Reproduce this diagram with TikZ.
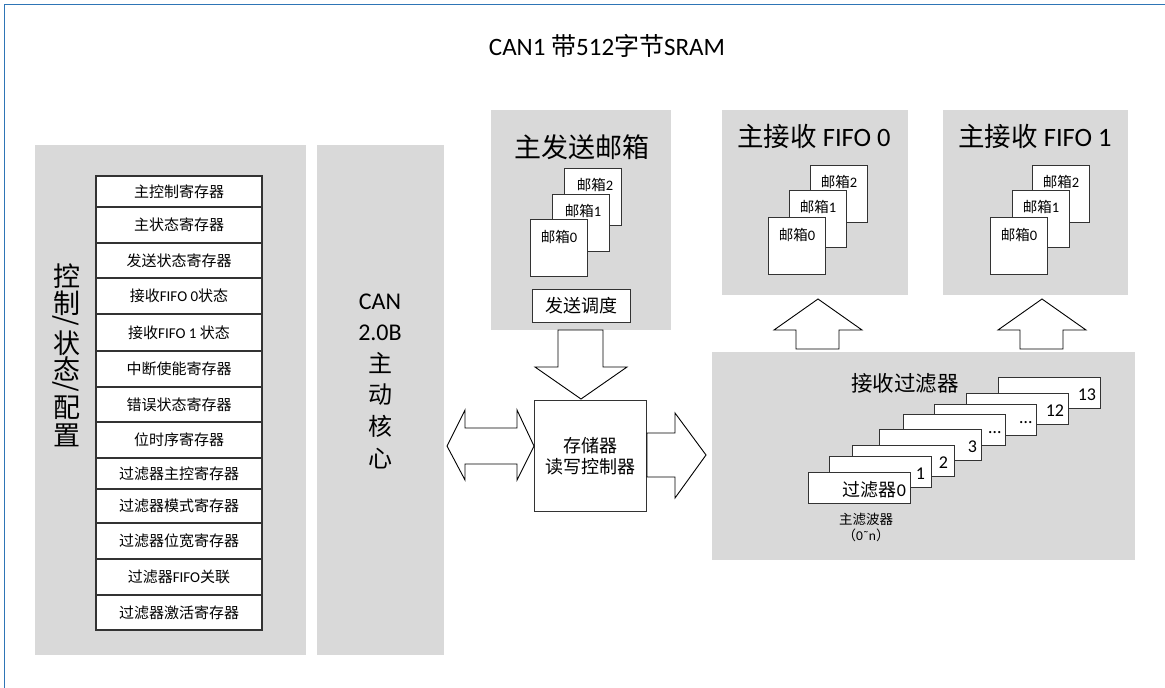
\documentclass[tikz,border=0pt]{standalone}
\usepackage{fontspec}
\usepackage{graphicx}
\setmainfont{Noto Sans CJK SC}
\newfontfamily\latfont{Carlito}
\newcommand\latn[1]{{\latfont #1}}
\definecolor{panel}{HTML}{D9D9D9}
\definecolor{frameblue}{HTML}{2E75B6}
\definecolor{edge}{HTML}{333333}
\begin{document}
\begin{tikzpicture}[x=1pt,y=-1pt,
  panelbox/.style={fill=panel, draw=none, inner sep=0pt, anchor=north west},
  regbox/.style={draw=edge, line width=1.1pt, fill=white, minimum width=166pt, inner sep=0pt, font=\fontsize{15}{17}\selectfont},
  mailbox/.style={draw=edge, line width=1.2pt, fill=white, minimum width=57pt, minimum height=57pt, inner sep=0pt, anchor=north west},
  mblabel/.style={font=\fontsize{14.5}{16}\selectfont, inner sep=0pt},
  filterbox/.style={draw=edge, line width=1.2pt, fill=white, minimum width=102pt, minimum height=31pt, inner sep=0pt, anchor=north west},
  flabel/.style={font=\fontsize{18}{20}\selectfont, inner sep=0pt, anchor=east},
  vchar/.style={font=\fontsize{27}{27}\selectfont, inner sep=0pt},
  blockarrow/.style={draw=black, line width=0.9pt, fill=white, line join=miter},
]
\useasboundingbox (0,0) rectangle (1165,688);
\fill[white] (0,0) rectangle (1165,688);
% outer frame
\draw[frameblue, line width=1.5pt] (1165,4.5) -- (4.5,4.5) -- (4.5,688);

% title
\node[font=\fontsize{25}{28}\selectfont] (title) at (607,46) {\latn{CAN1} 带\latn{512}字节\latn{SRAM}};

% panels
\node[panelbox, minimum width=271pt, minimum height=510pt] (ctrl) at (35,145) {};
\node[panelbox, minimum width=127pt, minimum height=510pt] (core) at (317,145) {};
\node[panelbox, minimum width=180pt, minimum height=220pt] (tx) at (491,110) {};
\node[panelbox, minimum width=186pt, minimum height=185pt] (fifo0) at (722,110) {};
\node[panelbox, minimum width=185pt, minimum height=185pt] (fifo1) at (943,110) {};
\node[panelbox, minimum width=423pt, minimum height=208pt] (filt) at (712,352) {};

% control / status / config label
\node[vchar] (v1) at (67,276) {控};
\node[vchar] (v2) at (67,303) {制};
\node[vchar] (v3) at (66,322) {\rotatebox[origin=c]{-90}{/}};
\node[vchar] (v4) at (67,343) {状};
\node[vchar] (v5) at (67,369) {态};
\node[vchar] (v6) at (66,388) {\rotatebox[origin=c]{-90}{/}};
\node[vchar] (v7) at (67,408) {配};
\node[vchar] (v8) at (67,435) {置};

% registers
\node[regbox, minimum height=31pt] (r1) at (179,191.5) {主控制寄存器};
\node[regbox, minimum height=36pt] (r2) at (179,225) {主状态寄存器};
\node[regbox, minimum height=35pt] (r3) at (179,260.5) {发送状态寄存器};
\node[regbox, minimum height=36pt] (r4) at (179,296) {接收\latn{FIFO 0}状态};
\node[regbox, minimum height=37pt] (r5) at (179,332.5) {接收\latn{FIFO 1} 状态};
\node[regbox, minimum height=36pt] (r6) at (179,369) {中断使能寄存器};
\node[regbox, minimum height=35pt] (r7) at (179,404.5) {错误状态寄存器};
\node[regbox, minimum height=36pt] (r8) at (179,440) {位时序寄存器};
\node[regbox, minimum height=31pt] (r9) at (179,473.5) {过滤器主控寄存器};
\node[regbox, minimum height=34pt] (r10) at (179,506) {过滤器模式寄存器};
\node[regbox, minimum height=36pt] (r11) at (179,541) {过滤器位宽寄存器};
\node[regbox, minimum height=36pt] (r12) at (179,577) {过滤器\latn{FIFO}关联};
\node[regbox, minimum height=35pt] (r13) at (179,612.5) {过滤器激活寄存器};

% CAN core text
\node[font=\fontsize{24}{31.6}\selectfont, align=center, inner sep=0pt] (coretxt) at (380,381) {\latn{CAN}\\\latn{2.0B}\\主\\动\\核\\心};

% transmit mailboxes
\node[font=\fontsize{27}{30}\selectfont, inner sep=0pt] (txtitle) at (582,147) {主发送邮箱};
\node[mailbox] (tx2) at (564,168) {};
\node[mblabel] (tx2l) at ([xshift=2pt,yshift=-17pt]tx2.north) {邮箱\latn{2}};
\node[mailbox] (tx1) at (552,194) {};
\node[mblabel] (tx1l) at ([xshift=2pt,yshift=-17pt]tx1.north) {邮箱\latn{1}};
\node[mailbox] (tx0) at (530,219) {};
\node[mblabel] (tx0l) at ([xshift=0pt,yshift=-18pt]tx0.north) {邮箱\latn{0}};
\node[draw=edge, line width=1.2pt, fill=white, minimum width=98pt, minimum height=33pt, inner sep=0pt, anchor=north west, font=\fontsize{18}{20}\selectfont] (sched) at (532,289) {发送调度};

% FIFO 0
\node[font=\fontsize{26.5}{30}\selectfont, inner sep=0pt] (f0title) at (814,136) {主接收 \latn{FIFO 0}};
\node[mailbox] (a2) at (810,165) {};
\node[mblabel] (a2l) at ([yshift=-17pt]a2.north) {邮箱\latn{2}};
\node[mailbox] (a1) at (789,190) {};
\node[mblabel] (a1l) at ([yshift=-17pt]a1.north) {邮箱\latn{1}};
\node[mailbox] (a0) at (768,217) {};
\node[mblabel] (a0l) at ([yshift=-18pt]a0.north) {邮箱\latn{0}};

% FIFO 1
\node[font=\fontsize{26.5}{30}\selectfont, inner sep=0pt] (f1title) at (1035,136) {主接收 \latn{FIFO 1}};
\node[mailbox] (b2) at (1032,165) {};
\node[mblabel] (b2l) at ([yshift=-17pt]b2.north) {邮箱\latn{2}};
\node[mailbox] (b1) at (1012,190) {};
\node[mblabel] (b1l) at ([yshift=-17pt]b1.north) {邮箱\latn{1}};
\node[mailbox] (b0) at (990,217) {};
\node[mblabel] (b0l) at ([yshift=-18pt]b0.north) {邮箱\latn{0}};

% filters
\node[font=\fontsize{21.5}{24}\selectfont, inner sep=0pt] (filttitle) at (905,383) {接收过滤器};
\node[filterbox] (g7) at (998,377) {};
\node[flabel] at ([xshift=-5pt,yshift=-2pt]g7.east) (g7l) {\latn{13}};
\node[filterbox] (g6) at (966,393) {};
\node[flabel] at ([xshift=-5pt,yshift=-2pt]g6.east) (g6l) {\latn{12}};
\node[filterbox] (g5) at (934,404) {};
\node[flabel] at ([xshift=-5pt,yshift=-2pt]g5.east) (g5l) {\latn{…}};
\node[filterbox] (g4) at (903,414) {};
\node[flabel] at ([xshift=-5pt,yshift=-2pt]g4.east) (g4l) {\latn{…}};
\node[filterbox] (g3) at (879,429) {};
\node[flabel] at ([xshift=-5pt,yshift=-2pt]g3.east) (g3l) {\latn{3}};
\node[filterbox] (g2) at (852,445) {};
\node[flabel] at ([xshift=-7pt,yshift=-2pt]g2.east) (g2l) {\latn{2}};
\node[filterbox] (g1) at (829,456) {};
\node[flabel] at ([xshift=-7pt,yshift=-2pt]g1.east) (g1l) {\latn{1}};
\node[filterbox] (g0) at (808,472) {};
\node[flabel] at ([xshift=-5pt,yshift=-2pt]g0.east) (g0l) {过滤器\latn{0}};
\node[font=\fontsize{13.5}{15}\selectfont, inner sep=0pt] (mainf) at (866,519) {主滤波器};
\node[font=\fontsize{13.5}{15}\selectfont, inner sep=0pt] (mainfn) at (866,535) {（\latn{0˜n}）};

% memory controller
\node[draw=edge, line width=1.2pt, fill=white, minimum width=112pt, minimum height=111pt, inner sep=0pt, anchor=north west, font=\fontsize{18}{21}\selectfont, align=center] (mem) at (534,400) {存储器\\读写控制器};

% block arrows
\draw[blockarrow] (558,330) -- (603,330) -- (603,367) -- (627,367) -- (581,399) -- (535,367) -- (558,367) -- cycle;
\draw[blockarrow] (447,446) -- (465,410) -- (465,428) -- (517,428) -- (517,410) -- (534,446) -- (517,480) -- (517,464) -- (465,464) -- (465,480) -- cycle;
\draw[blockarrow] (647,433) -- (675,433) -- (675,413) -- (706,455) -- (675,498) -- (675,477) -- (647,477) -- cycle;
\draw[blockarrow] (818,299) -- (862,330) -- (839,330) -- (839,349) -- (796,349) -- (796,330) -- (774,330) -- cycle;
\draw[blockarrow] (1042,299) -- (1086,330) -- (1063,330) -- (1063,349) -- (1020,349) -- (1020,330) -- (998,330) -- cycle;
\end{tikzpicture}
\end{document}
